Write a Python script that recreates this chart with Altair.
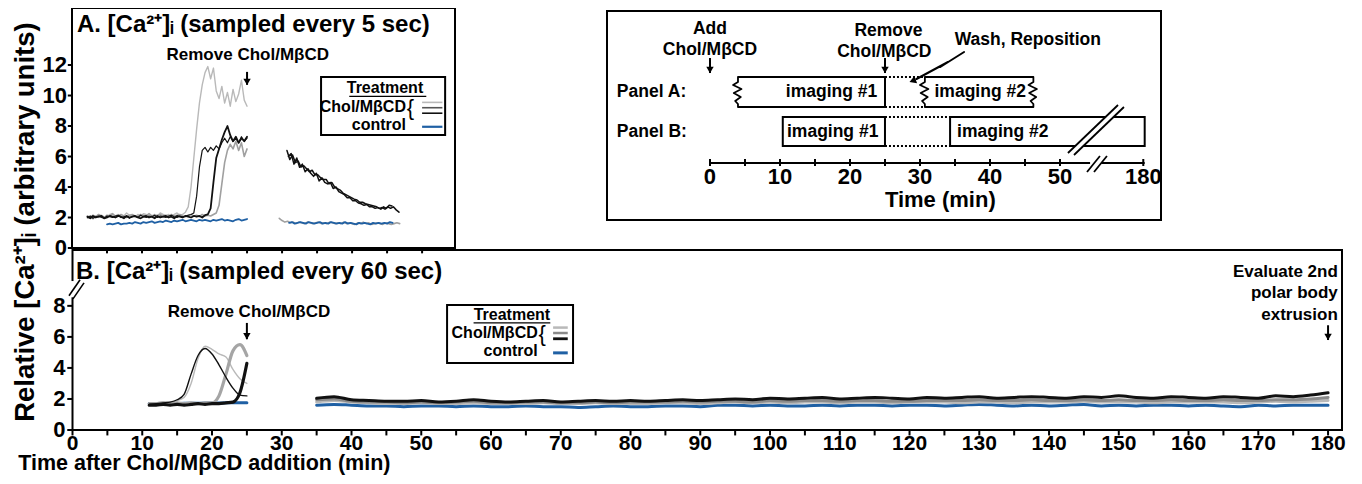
import altair as alt
import pandas as pd

FONT = "Liberation Sans"
OFF = 8  # page margin

# ---------------- data ----------------
# Panel A, imaging #1 (shown every 0.4 min)
A1_START, A1_STEP = 2.2, 0.4
A1_LIGHT = [1.95, 2.05, 1.9, 2.1, 2.0, 2.15, 2.05, 2.0, 2.2, 2.25,
            2.1, 2.2, 2.0, 2.1, 2.3, 2.15, 2.1, 2.0, 2.2, 2.1,
            2.25, 2.2, 2.05, 2.1, 2.2, 2.1, 2.3, 2.2, 2.1, 2.2,
            2.05, 2.2, 2.3, 2.15, 2.2, 2.35,
            2.7, 4.0, 5.9, 7.8, 9.5, 10.7, 11.5, 11.9, 11.1, 11.8,
            10.3, 9.8, 10.6, 9.5, 10.2, 9.3, 10.4, 9.6, 10.1, 11.0, 9.7, 9.3]
A1_BLACK1 = [2.0, 2.1, 1.95, 2.05, 2.1, 2.0, 1.95, 2.1, 2.05, 2.0,
             2.1, 2.15, 2.0, 2.05, 2.1, 1.95, 2.05, 2.1, 2.0, 2.15,
             2.05, 2.0, 2.1, 2.05, 2.15, 2.0, 2.1, 2.05, 2.0, 2.1,
             2.15, 2.05, 2.0, 2.1, 2.05, 2.1, 2.15, 2.2, 2.3,
             3.4, 5.3, 6.4, 6.6, 6.3, 6.6, 6.4, 6.7, 6.5, 6.9,
             7.2, 6.9, 7.3, 7.0, 7.2, 6.9, 7.3, 7.0, 7.2]
A1_BLACK2 = [2.05, 1.95, 2.1, 2.0, 2.05, 2.1, 1.95, 2.0, 2.1, 2.05,
             2.0, 2.1, 2.05, 1.95, 2.1, 2.0, 2.05, 2.1, 2.0, 1.95,
             2.05, 2.1, 2.0, 2.05, 1.95, 2.1, 2.0, 2.05, 2.1, 2.0,
             2.05, 1.95, 2.1, 2.05, 2.0, 2.1, 2.05, 2.0, 2.1, 2.05,
             2.1, 2.0, 2.15, 2.2,
             2.6, 4.3, 5.9, 6.5, 7.1, 7.6, 8.0, 7.4, 7.0, 7.3, 6.9, 7.2, 7.0, 7.3]
A1_GRAY = [2.1, 2.0, 2.15, 2.05, 2.2, 2.1, 2.0, 2.15, 2.1, 2.25,
           2.05, 2.1, 2.2, 2.1, 2.0, 2.15, 2.2, 2.1, 2.05, 2.2,
           2.15, 2.1, 2.25, 2.1, 2.05, 2.15, 2.2, 2.1, 2.15, 2.05,
           2.2, 2.1, 2.15, 2.2, 2.1, 2.05, 2.15, 2.2, 2.1, 2.15,
           2.05, 2.2, 2.1, 2.15, 2.1, 2.2, 2.3,
           2.8, 4.2, 5.6, 6.4, 6.8, 6.5, 7.0, 6.4, 6.9, 6.0, 6.5]
A1_CTRL_START = 5.0
A1_CTRL = [1.55, 1.6, 1.55, 1.6, 1.65, 1.55, 1.6, 1.6, 1.65, 1.6,
           1.7, 1.65, 1.6, 1.7, 1.65, 1.7, 1.75, 1.65, 1.7, 1.75,
           1.7, 1.8, 1.75, 1.7, 1.8, 1.75, 1.8, 1.85, 1.75, 1.8,
           1.85, 1.8, 1.75, 1.85, 1.8, 1.85, 1.8, 1.75, 1.85, 1.8,
           1.85, 1.9, 1.8, 1.85, 1.8, 1.75, 1.85, 1.9, 1.8, 1.85, 1.9]

# Panel A, imaging #2
A2_BLACK1_START = 30.7
A2_BLACK1 = [6.4, 5.8, 6.1, 5.6, 5.7, 5.3, 5.4, 5.2, 5.0, 5.1,
             4.8, 4.8, 4.6, 4.5, 4.5, 4.2, 4.3, 4.0, 3.9, 3.8,
             3.6, 3.5, 3.4, 3.3, 3.2, 3.15, 3.0, 3.0, 2.9, 2.85,
             2.8, 2.75, 2.7, 2.6, 2.65, 2.55, 2.7, 2.6, 2.7, 2.5, 2.35]
A2_BLACK2_START = 30.9
A2_BLACK2 = [6.0, 6.2, 5.5, 5.9, 5.3, 5.5, 5.0, 5.2, 4.9, 4.7,
             4.9, 4.4, 4.6, 4.3, 4.2, 4.3, 3.9, 4.0, 3.7, 3.6,
             3.5, 3.3, 3.3, 3.1, 3.1, 2.95, 2.9, 2.8, 2.85, 2.7,
             2.7, 2.6, 2.65, 2.55, 2.7, 2.6, 2.8, 2.75]
A2_GRAY_START = 29.6
A2_GRAY = [1.95, 1.8, 1.7, 1.75, 1.65, 1.7, 1.6, 1.7, 1.65, 1.6,
           1.7, 1.65, 1.6, 1.65, 1.7, 1.6, 1.65, 1.6, 1.7, 1.65,
           1.6, 1.65, 1.6, 1.7, 1.6, 1.65, 1.6, 1.55, 1.65, 1.6,
           1.7, 1.6, 1.65, 1.55, 1.6, 1.65, 1.6, 1.55, 1.65, 1.6,
           1.55, 1.6, 1.65, 1.6]
A2_CTRL_START = 31.0
A2_CTRL = [1.65, 1.7, 1.6, 1.65, 1.7, 1.65, 1.6, 1.7, 1.65, 1.6,
           1.65, 1.7, 1.6, 1.65, 1.6, 1.7, 1.65, 1.6, 1.65, 1.6,
           1.7, 1.6, 1.65, 1.6, 1.55, 1.65, 1.6, 1.65, 1.6, 1.55,
           1.65, 1.6, 1.65, 1.6, 1.65, 1.6, 1.7, 1.65]

# Panel B, imaging #1 (every 60 s, 11-25 min)
B1_START, B1_STEP = 11, 1
B1_BLACK_THIN = [1.65, 1.7, 1.75, 1.8, 1.95, 2.3, 3.6, 4.8, 5.25, 4.9, 4.2, 3.4, 2.7, 2.25, 2.2]
B1_LIGHT_THIN = [1.7, 1.75, 1.8, 1.8, 1.9, 2.1, 3.0, 4.6, 5.4, 5.2, 4.9, 4.7, 3.9, 3.3, 3.0]
B1_GRAY_THICK = [1.7, 1.7, 1.75, 1.7, 1.75, 1.7, 1.75, 1.7, 1.75, 1.75, 2.2, 3.6, 5.1, 5.5, 4.8]
B1_BLACK_THICK = [1.6, 1.6, 1.65, 1.6, 1.65, 1.6, 1.65, 1.7, 1.65, 1.7, 1.7, 1.75, 1.8, 2.4, 4.3]
B1_CTRL = [1.7, 1.7, 1.7, 1.7, 1.7, 1.72, 1.72, 1.72, 1.74, 1.74, 1.74, 1.75, 1.75, 1.75, 1.75]

# Panel B, imaging #2 (35-180 min, shown every 2.5 min)
B2_START, B2_STEP = 35, 2.5
B2_BLACK = [2.05, 2.15, 1.95, 1.9, 1.85, 1.85, 1.9, 1.8, 1.85, 1.95,
            1.85, 1.8, 1.85, 1.9, 1.8, 1.85, 1.9, 1.85, 1.9, 1.85,
            1.9, 1.95, 1.9, 1.95, 2.0, 1.95, 2.05, 2.0, 2.05, 2.1,
            2.0, 2.05, 2.1, 2.05, 2.0, 2.1, 2.05, 2.1, 2.15, 2.05,
            2.1, 2.15, 2.1, 2.05, 2.15, 2.1, 2.2, 2.1, 2.05, 2.15,
            2.1, 2.05, 2.15, 2.1, 2.05, 2.2, 2.15, 2.25, 2.4]
B2_GRAY = [1.95, 2.0, 1.85, 1.8, 1.8, 1.75, 1.8, 1.75, 1.8, 1.85,
           1.75, 1.75, 1.8, 1.8, 1.75, 1.75, 1.8, 1.75, 1.8, 1.8,
           1.8, 1.85, 1.8, 1.85, 1.85, 1.8, 1.9, 1.85, 1.9, 1.9,
           1.85, 1.9, 1.9, 1.85, 1.85, 1.9, 1.9, 1.9, 1.95, 1.9,
           1.9, 1.95, 1.9, 1.9, 1.95, 1.9, 1.95, 1.9, 1.9, 1.95,
           1.9, 1.9, 1.95, 1.9, 1.9, 1.95, 1.95, 2.0, 2.1]
B2_LIGHT = [1.8, 1.9, 1.8, 1.75, 1.7, 1.7, 1.75, 1.7, 1.7, 1.75,
            1.7, 1.7, 1.7, 1.75, 1.7, 1.7, 1.75, 1.7, 1.7, 1.7,
            1.75, 1.75, 1.7, 1.75, 1.8, 1.75, 1.8, 1.75, 1.8, 1.8,
            1.75, 1.8, 1.8, 1.75, 1.8, 1.8, 1.8, 1.75, 1.8, 1.8,
            1.75, 1.8, 1.8, 1.8, 1.85, 1.8, 1.8, 1.8, 1.75, 1.8,
            1.8, 1.8, 1.8, 1.75, 1.8, 1.85, 1.8, 1.85, 1.9]
B2_CTRL = [1.6, 1.65, 1.6, 1.55, 1.55, 1.5, 1.55, 1.55, 1.5, 1.55,
           1.5, 1.5, 1.55, 1.5, 1.5, 1.45, 1.5, 1.55, 1.5, 1.5,
           1.55, 1.55, 1.5, 1.6, 1.6, 1.55, 1.6, 1.55, 1.55, 1.6,
           1.55, 1.6, 1.6, 1.55, 1.6, 1.6, 1.55, 1.6, 1.65, 1.6,
           1.55, 1.6, 1.55, 1.6, 1.65, 1.55, 1.6, 1.55, 1.6, 1.6,
           1.55, 1.6, 1.55, 1.5, 1.6, 1.55, 1.6, 1.6, 1.6]

# axes / ticks
A_YTICKS = [0, 2, 4, 6, 8, 10, 12]
A_XTICKS = [5, 10, 15, 20, 25, 30, 35, 40, 45, 50]
B_YTICKS = [0, 2, 4, 6, 8]
B_XTICKS = list(range(0, 181, 5))
B_XLABELS = list(range(0, 181, 10))
S_TICKS = [0, 5, 10, 15, 20, 25, 30, 35, 40, 45, 50, 61.9]
S_TICKLABELS = ["0", "10", "20", "30", "40", "50", "180"]
S_TICKLABEL_POS = [0, 10, 20, 30, 40, 50, 61.9]

# colours
LIGHT, GRAY, DARK, BLACK, BLUE = "#b9b9b9", "#8a8a8a", "#555555", "#111111", "#1f60a4"

# ---------------- scales (each panel maps to its own region) ----------------
def sc(dom, rng):
    return alt.Scale(domain=dom, range=[rng[0] - OFF, rng[1] - OFF], nice=False, zero=False)

AX = sc([0, 54.7], [72, 455]); AY = sc([0, 15.74], [248, 8])
BX = sc([0, 182], [72.5, 1342]); BY = sc([0, 11.6], [430, 250])
SX = sc([-14.71, 64.43], [607, 1161]); SY = sc([0, 209], [220, 11])


def X(s):
    return alt.X("x:Q", scale=s, axis=None)


def Y(s):
    return alt.Y("y:Q", scale=s, axis=None)


def line(xs, ys, sx, sy, color, w, interp="linear", dash=None, ordered=False):
    df = pd.DataFrame({"x": xs, "y": ys, "i": list(range(len(xs)))})
    mk = dict(color=color, strokeWidth=w, interpolate=interp, strokeJoin="round", strokeCap="round")
    if dash:
        mk["strokeDash"] = dash
    enc = dict(x=X(sx), y=Y(sy))
    if ordered:
        enc["order"] = alt.Order("i:Q")
    return alt.Chart(df).mark_line(**mk).encode(**enc)


def series(start, step, vals, sx, sy, color, w, interp="linear"):
    ts = [round(start + step * i, 3) for i in range(len(vals))]
    return line(ts, vals, sx, sy, color, w, interp)


def segs(rows, sx, sy, color="black", w=2, dash=None):
    df = pd.DataFrame(rows, columns=["x", "y", "x2", "y2"])
    mk = dict(color=color, strokeWidth=w)
    if dash:
        mk["strokeDash"] = dash
    return alt.Chart(df).mark_rule(**mk).encode(x=X(sx), y=Y(sy), x2="x2:Q", y2="y2:Q")


def texts(rows, sx, sy, size, align="center", angle=0, weight="bold", baseline="middle"):
    df = pd.DataFrame(rows, columns=["x", "y", "label"])
    mk = dict(font=FONT, fontWeight=weight, fontSize=size, align=align, baseline=baseline, color="black")
    if angle:
        mk["angle"] = angle
    return alt.Chart(df).mark_text(**mk).encode(x=X(sx), y=Y(sy), text="label:N")


def box(x0, x1, y0, y1, sx, sy, w=2):
    df = pd.DataFrame({"x": [x0], "x2": [x1], "y": [y0], "y2": [y1]})
    return alt.Chart(df).mark_rect(stroke="black", strokeWidth=w, fillOpacity=0).encode(
        x=X(sx), x2="x2:Q", y=Y(sy), y2="y2:Q")


def arrow(x, y_top, y_tip, sx, sy):
    shaft = segs([(x, y_top, x, y_tip)], sx, sy, w=2)
    head = alt.Chart(pd.DataFrame({"x": [x], "y": [y_tip]})).mark_point(
        shape="triangle-down", filled=True, color="black", size=55, opacity=1, yOffset=-3
    ).encode(x=X(sx), y=Y(sy))
    return [shaft, head]


layers = []

# ======================= Panel A =======================
layers.append(box(0, 54.7, 0, 15.74, AX, AY, w=2))
layers.append(segs([(-0.6, v, 0, v) for v in A_YTICKS], AX, AY, w=2))
layers.append(segs([(v, 0, v, -0.35) for v in A_XTICKS], AX, AY, w=2))
layers.append(texts([(-0.7, v, str(v)) for v in A_YTICKS], AX, AY, 22, align="right"))
layers.append(texts([(0.7, 14.62, "A. [Ca²⁺]ᵢ (sampled every 5 sec)")], AX, AY, 24, align="left"))
layers.append(texts([(25.1, 12.66, "Remove Chol/MβCD")], AX, AY, 17))
layers += arrow(25, 11.55, 10.7, AX, AY)

layers.append(series(A1_START, A1_STEP, A1_LIGHT, AX, AY, LIGHT, 1.4))
layers.append(series(A1_START, A1_STEP, A1_GRAY, AX, AY, "#a0a0a0", 1.6))
layers.append(series(A1_START, A1_STEP, A1_BLACK1, AX, AY, BLACK, 1.2))
layers.append(series(A1_START, A1_STEP, A1_BLACK2, AX, AY, BLACK, 1.8))
layers.append(series(A1_CTRL_START, A1_STEP, A1_CTRL, AX, AY, BLUE, 1.8))
layers.append(series(A2_GRAY_START, 0.4, A2_GRAY, AX, AY, "#a0a0a0", 1.6))
layers.append(series(A2_CTRL_START, 0.4, A2_CTRL, AX, AY, BLUE, 1.8))
layers.append(series(A2_BLACK1_START, 0.4, A2_BLACK1, AX, AY, BLACK, 1.5))
layers.append(series(A2_BLACK2_START, 0.4, A2_BLACK2, AX, AY, BLACK, 1.5))

# legend A
layers.append(box(35.57, 53.29, 7.41, 11.21, AX, AY, w=2))
layers.append(texts([(44.7, 10.49, "Treatment")], AX, AY, 16))
layers.append(segs([(39.6, 9.95, 50.6, 9.95)], AX, AY, w=1.2))
layers.append(texts([(47.7, 9.25, "Chol/MβCD"), (47.7, 8.07, "control")], AX, AY, 16, align="right"))
layers.append(texts([(47.8, 9.2, "{")], AX, AY, 22, align="left", weight="normal"))
layers.append(segs([(50.0, 9.55, 52.9, 9.55)], AX, AY, color=LIGHT, w=1.6))
layers.append(segs([(50.0, 9.2, 52.9, 9.2)], AX, AY, color=DARK, w=1.6))
layers.append(segs([(50.0, 8.84, 52.9, 8.84)], AX, AY, color=BLACK, w=1.6))
layers.append(segs([(50.0, 7.95, 52.9, 7.95)], AX, AY, color=BLUE, w=2.2))

# ======================= Panel B =======================
layers.append(box(0, 182, 0, 11.6, BX, BY, w=2))
layers.append(segs([(-0.75, v, 0, v) for v in B_YTICKS], BX, BY, w=2))
layers.append(segs([(v, 0, v, -0.35) for v in B_XTICKS], BX, BY, w=2))
layers.append(texts([(-1.0, v, str(v)) for v in B_YTICKS], BX, BY, 22, align="right"))
layers.append(texts([(v, -0.88, str(v)) for v in B_XLABELS], BX, BY, 21))
layers.append(texts([(0.5, 10.19, "B. [Ca²⁺]ᵢ (sampled every 60 sec)")], BX, BY, 24, align="left"))
layers.append(texts([(18.9, -2.2, "Time after Chol/MβCD addition (min)")], BX, BY, 21.5))
layers.append(texts([(-6.7, 13.4, "Relative [Ca²⁺]ᵢ (arbitrary units)")], BX, BY, 27.5, angle=270))
# axis break on y axis
layers.append(segs([(0, 8.55, 0, 9.6)], BX, BY, color="white", w=5))
layers.append(segs([(-0.5, 8.65, 1.08, 9.68), (0.07, 8.45, 1.65, 9.48)], BX, BY, w=1.6))
# annotations
layers.append(texts([(25.3, 7.61, "Remove Chol/MβCD")], BX, BY, 17))
layers += arrow(25, 6.9, 5.85, BX, BY)
layers.append(texts([(181.4, 10.19, "Evaluate 2nd"), (181.4, 8.84, "polar body"),
                     (181.4, 7.42, "extrusion")], BX, BY, 17, align="right"))
layers += arrow(180, 6.75, 5.8, BX, BY)

# traces B
layers.append(series(B1_START, B1_STEP, B1_CTRL, BX, BY, BLUE, 3, "monotone"))
layers.append(series(B1_START, B1_STEP, B1_LIGHT_THIN, BX, BY, LIGHT, 1.4, "monotone"))
layers.append(series(B1_START, B1_STEP, B1_GRAY_THICK, BX, BY, "#a5a5a5", 3.2, "monotone"))
layers.append(series(B1_START, B1_STEP, B1_BLACK_THIN, BX, BY, BLACK, 1.4, "monotone"))
layers.append(series(B1_START, B1_STEP, B1_BLACK_THICK, BX, BY, BLACK, 3.2, "monotone"))
layers.append(series(B2_START, B2_STEP, B2_CTRL, BX, BY, BLUE, 3, "monotone"))
layers.append(series(B2_START, B2_STEP, B2_LIGHT, BX, BY, LIGHT, 3, "monotone"))
layers.append(series(B2_START, B2_STEP, B2_GRAY, BX, BY, GRAY, 3, "monotone"))
layers.append(series(B2_START, B2_STEP, B2_BLACK, BX, BY, BLACK, 3, "monotone"))

# legend B
layers.append(box(53.7, 71.76, 4.32, 8.06, BX, BY, w=2))
layers.append(texts([(63.0, 7.42, "Treatment")], BX, BY, 16))
layers.append(segs([(57.5, 6.9, 68.5, 6.9)], BX, BY, w=1.2))
layers.append(texts([(66.7, 6.22, "Chol/MβCD"), (66.7, 5.1, "control")], BX, BY, 16, align="right"))
layers.append(texts([(66.8, 6.18, "{")], BX, BY, 22, align="left", weight="normal"))
layers.append(segs([(68.9, 6.6, 71.0, 6.6)], BX, BY, color=LIGHT, w=2.5))
layers.append(segs([(68.9, 6.25, 71.0, 6.25)], BX, BY, color=GRAY, w=2.5))
layers.append(segs([(68.9, 5.88, 71.0, 5.88)], BX, BY, color=BLACK, w=2.8))
layers.append(segs([(68.9, 4.97, 71.0, 4.97)], BX, BY, color=BLUE, w=3))

# ======================= Schematic =======================
layers.append(box(-14.71, 64.43, 0, 209, SX, SY, w=2))
layers.append(texts([(0, 191, "Add"), (0, 170, "Chol/MβCD"), (25.5, 189, "Remove"),
                     (24.9, 168, "Chol/MβCD"), (45.4, 180, "Wash, Reposition")], SX, SY, 17.5))
layers += arrow(0, 162, 147, SX, SY)
layers += arrow(25, 162, 147, SX, SY)
layers.append(texts([(-13.3, 128, "Panel A:"), (-13.3, 88, "Panel B:")], SX, SY, 17.5, align="left"))

# lightning arrow
LIGHTNING_T = [36.3, 32.9, 34.0, 29.5]
LIGHTNING_SY = [168, 153, 158, 141]
layers.append(line(LIGHTNING_T, LIGHTNING_SY, SX, SY, "black", 2, ordered=True))
layers.append(alt.Chart(pd.DataFrame({"x": [29.1], "y": [139.5]})).mark_point(
    shape="triangle", filled=True, color="black", size=60, opacity=1, angle=250
).encode(x=X(SX), y=Y(SY)))

# panel A row
ZIG_DX = [0, 0, -0.7, 0.5, -0.6, 0.4, -0.4, 0, 0]
ZIG_SY = [143, 138, 135, 131, 127, 123, 119, 116, 113]
layers.append(segs([(4, 143, 25, 143), (4, 113, 25, 113), (25, 113, 25, 143),
                    (30.7, 143, 46.2, 143), (30.7, 113, 46.2, 113)], SX, SY, w=2))
for t0 in (4, 30.7, 46.2):
    layers.append(line([t0 + d for d in ZIG_DX], ZIG_SY, SX, SY, "black", 1.8, ordered=True))
layers.append(segs([(25, 143, 30.6, 143), (25, 113, 30.6, 113)], SX, SY, w=2, dash=[2, 2]))
layers.append(texts([(23.9, 128, "imaging #1")], SX, SY, 17.5, align="right"))
layers.append(texts([(38.6, 128, "imaging #2")], SX, SY, 17.5))

# panel B row
layers.append(box(10.4, 25, 74, 103, SX, SY, w=2))
layers.append(box(34.3, 62.1, 74, 103, SX, SY, w=2))
layers.append(segs([(25, 103, 34.3, 103), (25, 74, 34.3, 74)], SX, SY, w=2, dash=[2, 2]))
layers.append(texts([(11.0, 88.5, "imaging #1"), (35.3, 88.5, "imaging #2")], SX, SY, 17.5, align="left"))
layers.append(segs([(51.57, 66, 58.71, 114)], SX, SY, color="white", w=6))
layers.append(segs([(51.14, 67, 58.29, 115), (52.0, 65, 59.14, 113)], SX, SY, w=1.8))

# time axis
layers.append(segs([(0, 57, 54.3, 57), (55.9, 57, 62.1, 57)], SX, SY, w=2))
layers.append(segs([(v, 54, v, 61) for v in S_TICKS], SX, SY, w=2))
layers.append(segs([(53.86, 48, 55.71, 64), (54.86, 48, 56.71, 64)], SX, SY, w=1.8))
layers.append(texts(list(zip(S_TICKLABEL_POS, [43] * 7, S_TICKLABELS)), SX, SY, 22))
layers.append(texts([(32.9, 20, "Time (min)")], SX, SY, 22))

chart = alt.layer(*layers).resolve_scale(x="independent", y="independent").properties(
    width=1346, height=468, autosize=alt.AutoSizeParams(type="none"), padding=0
).configure_view(strokeWidth=0)

chart.save("out.html", embed_options={"renderer": "svg", "actions": False})
